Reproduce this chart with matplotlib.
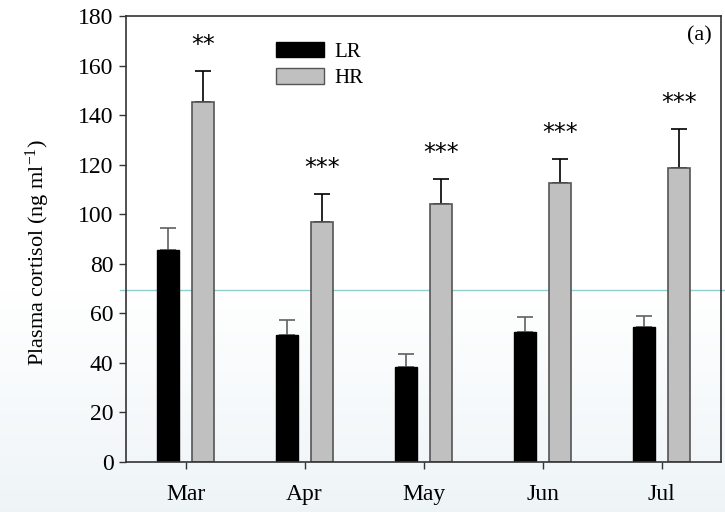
import numpy as np
import matplotlib
matplotlib.use("Agg")
import matplotlib.pyplot as plt
from matplotlib.patches import Patch
from matplotlib.lines import Line2D

months = ["Mar", "Apr", "May", "Jun", "Jul"]
lr_mean = [85.5, 51.3, 38.3, 52.5, 54.5]
lr_err = [9.1, 5.9, 5.2, 6.1, 4.5]
hr_mean = [145.4, 96.9, 104.2, 112.6, 118.8]
hr_err = [12.5, 11.1, 10.2, 9.7, 15.5]
signif = ["**", "***", "***", "***", "***"]
yticks = [0, 20, 40, 60, 80, 100, 120, 140, 160, 180]

serif = ["Liberation Serif", "DejaVu Serif"]
plt.rcParams["mathtext.fontset"] = "custom"
plt.rcParams["mathtext.rm"] = "Liberation Serif"
plt.rcParams["mathtext.it"] = "Liberation Serif:italic"
plt.rcParams["mathtext.bf"] = "Liberation Serif:bold"

fig = plt.figure(figsize=(7.25, 5.12), dpi=100)
fig.patch.set_facecolor("white")

# background gradient (lower part of the image)
bg = fig.add_axes([0, 0, 1, 1], zorder=-10)
bg.set_axis_off()
split = 1 - 290 / 512
n = 256
grad = np.ones((n, 1, 3))
ys = np.linspace(0, 1, n)
top_c = np.array([1.0, 1.0, 1.0])
bot_c = np.array([0.935, 0.958, 0.968])
for i, yv in enumerate(ys):
    if yv >= split:
        grad[i, 0] = top_c
    else:
        t = yv / split
        grad[i, 0] = bot_c * (1 - t) + top_c * t
bg.imshow(grad, aspect="auto", extent=[0, 1, 0, 1], origin="lower")
bg.set_xlim(0, 1)
bg.set_ylim(0, 1)
bg.add_line(Line2D([0.165, 1.0], [split, split], color="#8fcfcf", lw=1.0))

ax = fig.add_axes([126 / 725, 1 - 462 / 512, (721 - 126) / 725, (462 - 16) / 512])
ax.set_facecolor("none")

x = np.arange(1, len(months) + 1)
w = 0.185
off = 0.148
ax.bar(x - off, lr_mean, w, color="black", edgecolor="black", lw=1, zorder=2)
ax.bar(x + off, hr_mean, w, color="#c0c0c0", edgecolor="#555555", lw=1.2, zorder=2)
ax.errorbar(x - off, lr_mean, yerr=[np.zeros(5), lr_err], fmt="none",
            ecolor="#606060", elinewidth=1.2, capsize=6, capthick=1.2, zorder=1)
ax.errorbar(x + off, hr_mean, yerr=[np.zeros(5), hr_err], fmt="none",
            ecolor="black", elinewidth=1.2, capsize=6, capthick=1.2, zorder=1)

for xi, m, e, s in zip(x, hr_mean, hr_err, signif):
    ax.text(xi + off, m + e + 10.5, s, ha="center", va="center",
            fontsize=17, family="DejaVu Sans", color="black")

ax.set_xlim(0.5, 5.5)
ax.set_ylim(0, 180)
ax.set_yticks(yticks)
ax.set_xticks(x)
ax.set_xticklabels(months)
for lab in ax.get_xticklabels() + ax.get_yticklabels():
    lab.set_family(serif)
    lab.set_fontsize(17)
ax.tick_params(axis="y", direction="out", length=5, width=1, color="#333333", pad=4)
ax.tick_params(axis="x", direction="out", length=5, width=1, color="#333333", pad=11)
for sp in ax.spines.values():
    sp.set_color("#333333")
    sp.set_linewidth(1.2)

ax.set_ylabel(r"Plasma cortisol (ng ml$^{-1}$)", family=serif, fontsize=16)
ax.yaxis.set_label_coords(-0.125, 0.47)

ax.text(0.985, 0.955, "(a)", transform=ax.transAxes, ha="right", va="center",
        family=serif, fontsize=16)

handles = [Patch(facecolor="black", edgecolor="black"),
           Patch(facecolor="#c0c0c0", edgecolor="#555555")]
leg = ax.legend(handles, ["LR", "HR"], loc="upper left",
                bbox_to_anchor=(0.252, 0.942), frameon=False,
                prop={"family": serif, "size": 15},
                handlelength=2.3, handleheight=0.77, handletextpad=0.5,
                labelspacing=0.3, borderpad=0, borderaxespad=0)

fig.savefig("out.png", dpi=100)
